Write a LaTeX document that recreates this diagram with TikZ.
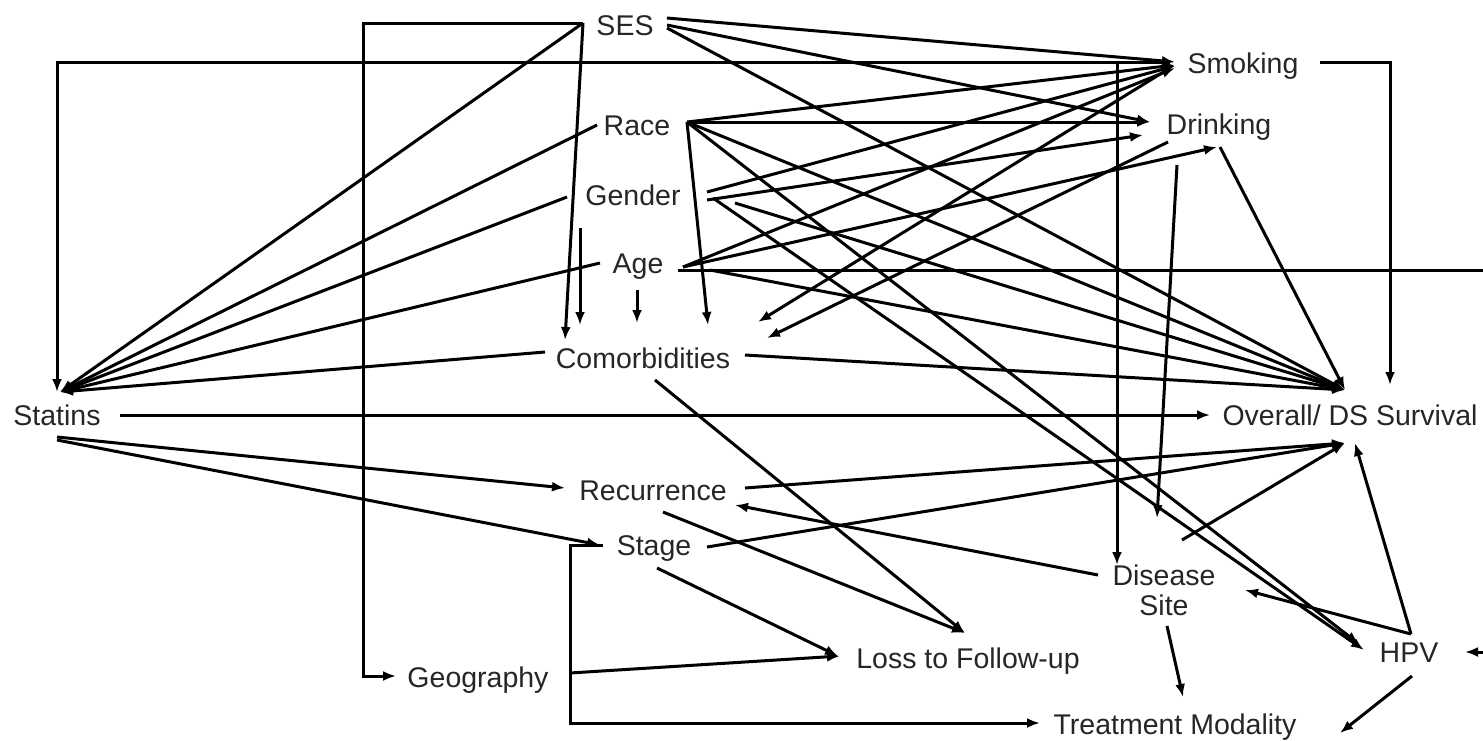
\documentclass[tikz,border=0pt]{standalone}
\usepackage{fontspec}
\setmainfont{Liberation Sans}
\usetikzlibrary{calc,arrows.meta}
\begin{document}
\begin{tikzpicture}[x=1pt,y=-1pt,
  lbl/.style={inner sep=0pt,text height=20pt,text depth=0pt,anchor=center,font=\fontsize{28.5}{30}\selectfont,text=black!85},
  lbl2/.style={inner sep=0pt,align=center,anchor=center,font=\fontsize{28.5}{30}\selectfont,text=black!85},
  arr/.style={line width=3pt,-{Latex[length=13pt,width=10pt]},line join=miter}]
\useasboundingbox (0,0) rectangle (1483,740);
\clip (0,0) rectangle (1483,740);
% nodes
\node[lbl] (SES) at (625,25) {SES};
\node[lbl] (Smk) at (1243,63) {Smoking};
\node[lbl] (Race) at (637,125) {Race};
\node[lbl] (Drk) at (1219,124) {Drinking};
\node[lbl] (Gen) at (633,195) {Gender};
\node[lbl] (Age) at (638,263) {Age};
\node[lbl] (Com) at (643,358) {Comorbidities};
\node[lbl] (Sta) at (57,415) {Statins};
\node[lbl] (Surv) at (1350,415) {Overall/ DS Survival};
\node[lbl] (Rec) at (653,490) {Recurrence};
\node[lbl] (Stg) at (654,545) {Stage};
\node[lbl2] (DS) at (1164,590) {Disease\\Site};
\node[lbl] (HPV) at (1409,652) {HPV};
\node[lbl] (Geo) at (478,677) {Geography};
\node[lbl] (Loss) at (968,658) {Loss to Follow-up};
\node[lbl] (Trt) at (1175,724) {Treatment Modality};
% SES
\draw[arr] ($(SES)+(-42,-2)$) -- ($(SES)+(-262,-2)$) |- ($(Geo)+(-82,-1)$);
\draw[arr] ($(SES)+(-42,-2)$) -- ($(Sta)+(3,-23)$);
\draw[arr] ($(SES)+(-42,-2)$) -- ($(Com)+(-78,-18)$);
\draw[arr] ($(SES)+(42,-7)$) -- ($(Smk)+(-68,-1)$);
\draw[arr] ($(SES)+(42,0)$) -- ($(Drk)+(-69,-2)$);
\draw[arr] ($(SES)+(42,3)$) -- ($(Surv)+(-5,-25)$);
% Race
\draw[arr] ($(Race)+(50,-3)$) -- ($(Smk)+(-68,2)$);
\draw[arr] ($(Race)+(50,-3)$) -- ($(Drk)+(-69,-2)$);
\draw[arr] ($(Race)+(50,-3)$) -- ($(Com)+(65,-33)$);
\draw[arr] ($(Race)+(50,-3)$) -- ($(Surv)+(-5,-25)$);
\draw[arr] ($(Race)+(50,-3)$) -- ($(HPV)+(-50,-8)$);
\draw[arr] ($(Race)+(-40,0)$) -- ($(Sta)+(3,-23)$);
% Gender
\draw[arr] ($(Gen)+(-66,2)$) -- ($(Sta)+(3,-23)$);
\draw[arr] ($(Gen)+(-53,33)$) -- ($(Com)+(-63,-33)$);
\draw[arr] ($(Gen)+(74,-3)$) -- ($(Smk)+(-68,3)$);
\draw[arr] ($(Gen)+(74,5)$) -- ($(Drk)+(-76,11)$);
\draw[arr] ($(Gen)+(80,3)$) -- ($(HPV)+(-45,-2)$);
\draw[arr] ($(Gen)+(102,8)$) -- ($(Surv)+(-5,-25)$);
% Age
\draw[arr] ($(Age)+(-38,0)$) -- ($(Sta)+(3,-23)$);
\draw[arr] ($(Age)+(-1,27)$) -- ($(Com)+(-6,-35)$);
\draw[arr] ($(Age)+(45,4)$) -- ($(Smk)+(-68,5)$);
\draw[arr] ($(Age)+(45,4)$) -- ($(Drk)+(-2,23)$);
\draw[arr] ($(Age)+(72,7)$) -- ($(Surv)+(-5,-25)$);
\draw[arr] ($(Age)+(40,7)$) -| ($(HPV)+(91,0)$) -- ($(HPV)+(56,0)$);
% Comorbidities
\draw[arr] ($(Com)+(-98,-6)$) -- ($(Sta)+(3,-23)$);
\draw[arr] ($(Com)+(102,-3)$) -- ($(Surv)+(-5,-25)$);
\draw[arr] ($(Com)+(12,22)$) -- ($(Loss)+(-3,-25)$);
% Smoking
\draw[arr] ($(Smk)+(-73,-1)$) -| ($(Sta)+(0,-23)$);
\draw[arr] ($(Smk)+(-126,-1)$) -- ($(DS)+(-47,-25)$);
\draw[arr] ($(Smk)+(77,-1)$) -| ($(Surv)+(40,-30)$);
\draw[arr] ($(Smk)+(-73,5)$) -- ($(Com)+(115,-36)$);
% Drinking
\draw[arr] ($(Drk)+(-51,18)$) -- ($(Com)+(124,-20)$);
\draw[arr] ($(Drk)+(-42,41)$) -- ($(DS)+(-7,-72)$);
\draw[arr] ($(Drk)+(1,23)$) -- ($(Surv)+(-5,-25)$);
% Statins
\draw[arr] ($(Sta)+(63,0)$) -- ($(Surv)+(-140,0)$);
\draw[arr] ($(Sta)+(0,22)$) -- ($(Rec)+(-88,-2)$);
\draw[arr] ($(Sta)+(0,25)$) -- ($(Stg)+(-54,0)$);
% Recurrence, Stage
\draw[arr] ($(Rec)+(92,-2)$) -- ($(Surv)+(-5,28)$);
\draw[arr] ($(Rec)+(10,22)$) -- ($(Loss)+(-3,-25)$);
\draw[arr] ($(Stg)+(53,2)$) -- ($(Surv)+(-5,28)$);
\draw[arr] ($(Stg)+(3,23)$) -- ($(Loss)+(-130,-2)$);
\draw[arr] ($(Stg)+(-51,0)$) -- ($(Stg)+(-84,0)$) |- ($(Trt)+(-135,-1)$);
% Geography
\draw[arr] ($(Geo)+(92,-4)$) -- ($(Loss)+(-128,-2)$);
% Disease site
\draw[arr] ($(DS)+(-66,-15)$) -- ($(Rec)+(82,15)$);
\draw[arr] ($(DS)+(18,-50)$) -- ($(Surv)+(-5,28)$);
\draw[arr] ($(DS)+(3,36)$) -- ($(Trt)+(8,-27)$);
% HPV
\draw[arr] ($(HPV)+(2,-18)$) -- ($(DS)+(81,0)$);
\draw[arr] ($(HPV)+(2,-18)$) -- ($(Surv)+(5,28)$);
\draw[arr] ($(HPV)+(3,24)$) -- ($(Trt)+(165,9)$);
\end{tikzpicture}
\end{document}
